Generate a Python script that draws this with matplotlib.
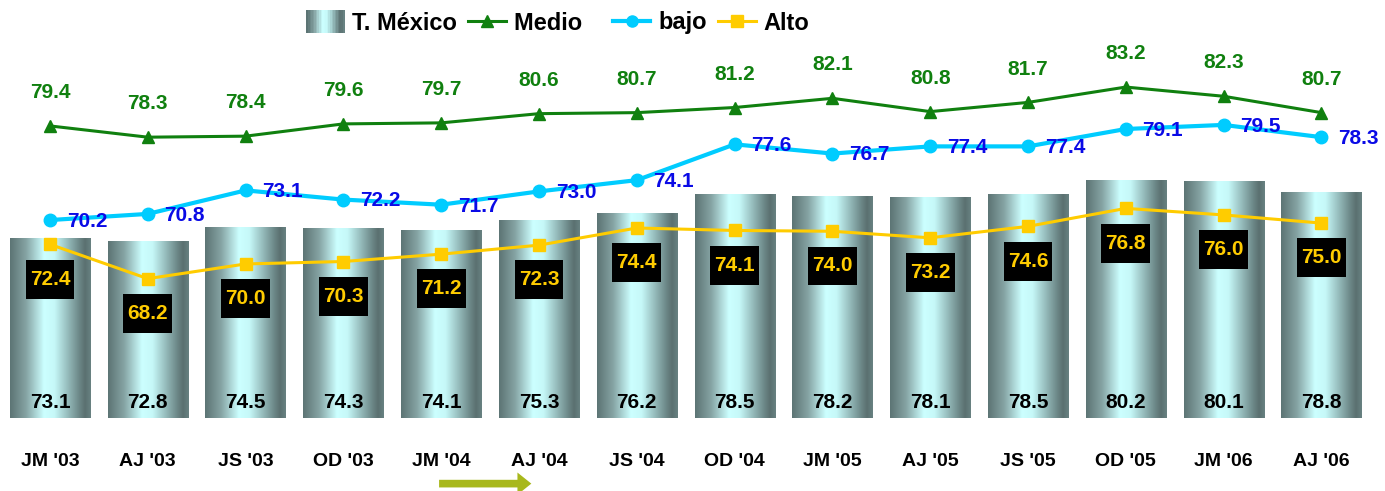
import matplotlib
matplotlib.use('Agg')
import matplotlib.pyplot as plt
import numpy as np
from matplotlib.colors import LinearSegmentedColormap
from matplotlib.legend_handler import HandlerBase
from matplotlib.patches import Rectangle, Patch
from matplotlib.lines import Line2D
from matplotlib.offsetbox import AnnotationBbox, TextArea, DrawingArea, HPacker

CATEGORIES = ["JM '03", "AJ '03", "JS '03", "OD '03", "JM '04", "AJ '04", "JS '04",
              "OD '04", "JM '05", "AJ '05", "JS '05", "OD '05", "JM '06", "AJ '06"]
MEXICO = [73.1, 72.8, 74.5, 74.3, 74.1, 75.3, 76.2, 78.5, 78.2, 78.1, 78.5, 80.2, 80.1, 78.8]
MEDIO = [79.4, 78.3, 78.4, 79.6, 79.7, 80.6, 80.7, 81.2, 82.1, 80.8, 81.7, 83.2, 82.3, 80.7]
BAJO = [70.2, 70.8, 73.1, 72.2, 71.7, 73.0, 74.1, 77.6, 76.7, 77.4, 77.4, 79.1, 79.5, 78.3]
ALTO = [72.4, 68.2, 70.0, 70.3, 71.2, 72.3, 74.4, 74.1, 74.0, 73.2, 74.6, 76.8, 76.0, 75.0]

GREEN = '#10800f'
CYAN = '#00ccff'
BLUE = '#0a0ae6'
GOLD = '#ffcc00'

plt.rcParams['font.family'] = ['Liberation Sans', 'DejaVu Sans']
plt.rcParams['font.weight'] = 'bold'

cyl = LinearSegmentedColormap.from_list(
    'cyl', [(0, '#5c7474'), (0.2, '#86a4a4'), (0.42, '#ccffff'), (0.55, '#c6f8f8'),
            (0.85, '#6e8a8a'), (0.93, '#5a7070'), (1, '#688282')])
grad = np.linspace(0, 1, 256).reshape(1, -1)

fig = plt.figure(figsize=(13.85, 4.91), dpi=100)
H = 491
ax = fig.add_axes([0, (H - 418) / H, 1, 418 / H])
ax2 = ax.twinx()
x = np.arange(len(CATEGORIES))

bars = ax.bar(x, MEXICO, width=0.82, color='none', edgecolor='none')
ax.set_xlim(-0.511, 13.65)
ax.set_ylim(51.15, 102.3)
for b in bars:
    x0, y0 = b.get_x(), ax.get_ylim()[0]
    ax.imshow(grad, cmap=cyl, aspect='auto', extent=[x0, x0 + b.get_width(), y0, b.get_height()],
              zorder=1, interpolation='bilinear')
ax.set_xlim(-0.511, 13.65)
ax.set_ylim(51.15, 102.3)

# bar values at bottom
for xi, v in zip(x, MEXICO):
    ax.annotate(f'{v:.1f}', (xi, 0), xycoords=('data', 'axes fraction'), xytext=(0, 11),
                textcoords='offset points', ha='center', va='center', fontsize=15, color='black')

# Alto line on bar axis
ax.plot(x, ALTO, color=GOLD, lw=2.2, marker='s', ms=9, zorder=3)
for xi, v in zip(x, ALTO):
    box = HPacker(children=[DrawingArea(0, 22), TextArea(f'{v:.1f}', textprops=dict(
        color=GOLD, fontsize=15, fontweight='bold'))], align='center', pad=0, sep=0)
    ab = AnnotationBbox(box, (xi, v), xybox=(0, -25), boxcoords='offset points',
                        pad=0.3, bboxprops=dict(boxstyle='square', fc='black', ec='none'),
                        frameon=True, zorder=4)
    ax.add_artist(ab)

# Medio and bajo on second axis
ax2.set_ylim(50.85, 91.71)
ax2.plot(x, MEDIO, color=GREEN, lw=2.2, marker='^', ms=9, zorder=3)
ax2.plot(x, BAJO, color=CYAN, lw=3, marker='o', ms=9, zorder=3)
for xi, v in zip(x, MEDIO):
    ax2.annotate(f'{v:.1f}', (xi, v), xytext=(0, 24), textcoords='offset points',
                 ha='center', va='center', fontsize=15, color=GREEN)
for xi, v in zip(x, BAJO):
    ax2.annotate(f'{v:.1f}', (xi, v), xytext=(12, -1), textcoords='offset points',
                 ha='left', va='center', fontsize=15, color=BLUE)

for a in (ax, ax2):
    a.set_yticks([])
    for s in a.spines.values():
        s.set_visible(False)
ax.set_xticks(x)
ax.set_xticklabels(CATEGORIES, fontsize=14)
ax.tick_params(axis='x', length=0, pad=25)

# arrow below the axis
ax.annotate('', xy=(4.95, -0.157), xytext=(3.95, -0.157), xycoords=('data', 'axes fraction'),
            arrowprops=dict(arrowstyle='simple,head_length=1.0,head_width=1.6,tail_width=0.55',
                            color='#a8b81c', lw=0), annotation_clip=False)


class GradHandler(HandlerBase):
    def create_artists(self, legend, orig, xd, yd, w, h, fontsize, trans):
        n = 24
        out = []
        for i in range(n):
            out.append(Rectangle((xd + w * i / n, yd - h * 0.2), w / n + 0.3, h * 1.4,
                                 fc=cyl(i / (n - 1)), ec='none', transform=trans))
        return out


handles = [Patch(), Line2D([], [], color=GREEN, lw=2.2, marker='^', ms=9),
           Line2D([], [], color=CYAN, lw=3, marker='o', ms=8),
           Line2D([], [], color=GOLD, lw=2.2, marker='s', ms=8)]
labels = ['T. México', 'Medio   ', 'bajo', 'Alto']
fig.legend(handles, labels, handler_map={Patch: GradHandler()}, loc='center',
           bbox_to_anchor=(558 / 1385, 1 - 23 / H), ncol=4, frameon=False, fontsize=17,
           handlelength=1.6, handletextpad=0.35, columnspacing=0.45)

fig.savefig('out.png', dpi=100)
